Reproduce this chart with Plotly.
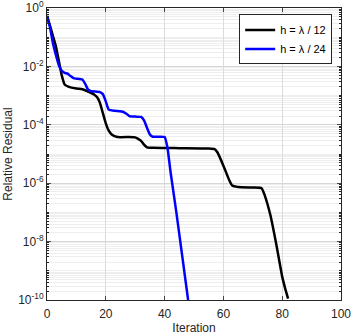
import plotly.graph_objects as go

# convergence history, log10 of relative residual
iter_h12 = [0, 1, 2, 3, 4, 5, 6, 8, 10, 12, 14, 16, 17, 18, 19, 20, 21, 22, 24, 28, 30, 31, 32, 33, 34, 36,
            45, 55, 57, 58, 60, 62, 63, 65, 70, 73, 74, 76, 78, 80, 81, 82]
log_res_h12 = [-0.27, -0.6, -0.95, -1.3, -1.8, -2.3, -2.62, -2.72, -2.76, -2.78, -2.86, -2.96, -3.05, -3.25,
               -3.6, -3.95, -4.2, -4.33, -4.42, -4.42, -4.43, -4.48, -4.55, -4.68, -4.77, -4.79,
               -4.8, -4.81, -4.83, -4.95, -5.4, -5.9, -6.08, -6.13, -6.15, -6.17, -6.4, -7.1, -8.1, -9.2, -9.6, -9.95]

iter_h24 = [0, 1, 2, 3, 4, 5, 6, 7, 8, 9, 10, 12, 13, 14, 15, 18, 19, 20, 21, 23, 26, 27, 28, 30, 32, 33,
            34, 35, 36, 40, 41, 42, 44, 46, 48]
log_res_h24 = [-0.27, -0.65, -1.2, -1.6, -1.95, -2.15, -2.22, -2.25, -2.33, -2.4, -2.42, -2.45, -2.6, -2.8,
               -2.85, -2.88, -2.95, -3.2, -3.48, -3.52, -3.56, -3.62, -3.7, -3.72, -3.73, -3.85,
               -4.1, -4.33, -4.41, -4.42, -4.8, -5.6, -7.0, -8.5, -10.0]

labels = ["h = \u03bb / 12", "h = \u03bb / 24"]
colors = ["black", "#0000ff"]

x_ticks = [0, 20, 40, 60, 80, 100]
y_exps = [0, -2, -4, -6, -8, -10]

fig = go.Figure()
for xs, ls, name, c in [(iter_h12, log_res_h12, labels[0], colors[0]),
                        (iter_h24, log_res_h24, labels[1], colors[1])]:
    fig.add_trace(go.Scatter(x=xs, y=[10 ** v for v in ls], mode="lines", name=name,
                             line=dict(color=c, width=2.5, shape="spline", smoothing=0.4)))

minor_vals = []
for e in range(-10, 0):
    for m in range(1, 10):
        v = m * 10.0 ** e
        if m == 1 and e % 2 == 0:
            continue
        minor_vals.append(v)

axis_col = "#262626"
fig.update_layout(
    width=351, height=335,
    margin=dict(l=47, r=10, t=8, b=35),
    plot_bgcolor="white", paper_bgcolor="white",
    font=dict(family="Liberation Sans, Arial", size=12, color=axis_col),
    showlegend=True,
    legend=dict(x=0.97, y=0.978, xanchor="right", yanchor="top",
                bordercolor=axis_col, borderwidth=1, bgcolor="white",
                font=dict(size=11, color="black"), tracegroupgap=0,
                itemwidth=30),
    xaxis=dict(range=[0, 100], tickvals=x_ticks, ticks="inside", ticklen=4,
               ticklabeloverflow="allow",
               showline=True, linecolor=axis_col, linewidth=1, mirror="ticks",
               showgrid=True, gridcolor="#dcdcdc", gridwidth=1, zeroline=False,
               automargin=False, ticklabelstandoff=3,
               title=dict(text="Iteration", standoff=3, font=dict(size=12))),
    yaxis=dict(type="log", range=[-10, 0],
               tickvals=[10.0 ** e for e in y_exps],
               ticktext=["10<sup>%d</sup>" % e for e in y_exps],
               ticks="inside", ticklen=4, ticklabeloverflow="allow",
               showline=True, linecolor=axis_col, linewidth=1, mirror="ticks",
               showgrid=True, gridcolor="#d6d6d6", gridwidth=1, zeroline=False,
               automargin=False,
               minor=dict(tickvals=minor_vals, ticks="inside", ticklen=2, tickcolor=axis_col,
                          showgrid=True, gridcolor="#eeeeee", gridwidth=1),
               title=dict(text="Relative Residual", standoff=2, font=dict(size=12))),
)

# the page body has a default 8px margin; drop it so the figure fills the window
fig.write_html("out.html", config={"displayModeBar": False},
               post_script="document.body.style.margin='0';")
